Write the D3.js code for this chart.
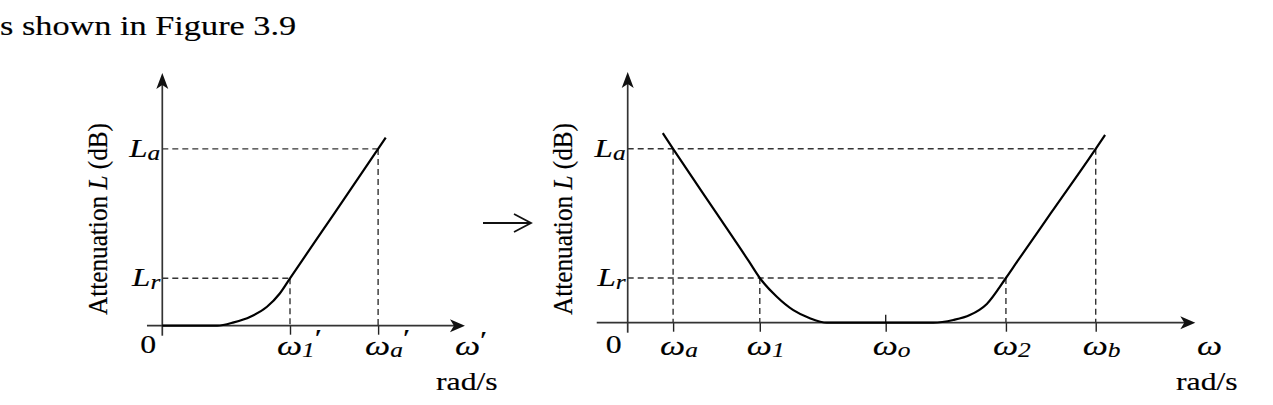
<!DOCTYPE html>
<html>
<meta charset="utf-8" />
<script src="https://d3js.org/d3.v7.min.js"></script>
<style>
  body { margin: 0; background: #fff; }
  text { font-family: "Liberation Serif", "Times New Roman", serif; fill: #000; stroke: #000; stroke-width: 0.15px; }
</style>
<body>
<svg id="fig" width="1273" height="405"></svg>
<script>
// lowpass prototype (left): normalised frequency, attenuation in units of Lr
const protoW = [0, 0.43, 0.56, 0.69, 0.82, 0.92, 1.0, 1.35, 1.69, 1.75];
const protoL = [0, 0, 0.07, 0.19, 0.40, 0.68, 1.0, 2.38, 3.73, 3.97];
const protoTickW = [1.0, 1.69];
const protoTickL = [1.0, 3.73];
const protoTickSub = ["1", "a"];

// bandstop result (right)
const bsW = [0.68, 0.88, 1.72, 2.35, 2.56, 2.89, 3.21, 3.53, 3.86, 5.92, 6.31, 6.63, 6.96, 7.33, 7.55, 8.2, 9.07, 9.25];
const bsL = [4.24, 3.89, 2.45, 1.37, 1.0, 0.58, 0.28, 0.10, 0, 0, 0.06, 0.17, 0.42, 1.0, 1.37, 2.45, 3.89, 4.2];
const bsTickW = [0.88, 2.56, 5.0, 7.33, 9.07];
const bsTickL = [3.89, 1.0, 0, 1.0, 3.89];
const bsTickSub = ["a", "1", "o", "2", "b"];

const levelSub = ["a", "r"];

const svg = d3.select("#fig");
const SX = 1.27; // source figure is stretched sideways

function label(x, y, parts, anchor) {
  const t = svg.append("text")
    .attr("transform", `translate(${x},${y}) scale(${SX},1)`)
    .attr("text-anchor", anchor || "start");
  parts.forEach(p => {
    t.append("tspan")
      .text(p.t)
      .attr("font-size", p.size || 25)
      .attr("font-style", p.it ? "italic" : null)
      .attr("dy", p.dy || 0);
  });
  return t;
}

function arrowRight(x, y) {
  svg.append("path")
    .attr("d", `M${x},${y} L${x - 15},${y - 6.5} L${x - 11},${y} L${x - 15},${y + 6.5} Z`)
    .attr("fill", "#111");
}
function arrowUp(x, y) {
  svg.append("path")
    .attr("d", `M${x},${y} L${x - 6},${y + 16} L${x},${y + 12} L${x + 6},${y + 16} Z`)
    .attr("fill", "#111");
}

// header line
label(0, 35, [{ t: "s shown in Figure 3.9", size: 27 }]);

function panel(p) {
  const x = d3.scaleLinear().domain(p.xDom).range(p.xRange);
  const y = d3.scaleLinear().domain([0, 1]).range(p.yRange);
  const g = svg.append("g");

  // ticks on the frequency axis
  g.append("g")
    .attr("transform", `translate(0,${y(0)})`)
    .call(d3.axisBottom(x).tickValues(p.tickW).tickSize(9).tickFormat("").tickSizeOuter(0))
    .call(a => a.select(".domain").remove())
    .call(a => a.selectAll(".tick line").attr("stroke", "#222").attr("stroke-width", 1.4));

  // dashed guides
  const guides = [];
  p.tickW.forEach((w, i) => { if (p.tickL[i] > 0) guides.push([w, p.tickL[i]]); });
  g.selectAll(".hguide").data(p.levels).enter().append("line")
    .attr("x1", x(0)).attr("x2", d => x(d.w))
    .attr("y1", d => y(d.L)).attr("y2", d => y(d.L))
    .attr("stroke", "#333").attr("stroke-width", 1.4).attr("stroke-dasharray", "6,4");
  g.selectAll(".vguide").data(guides).enter().append("line")
    .attr("x1", d => x(d[0])).attr("x2", d => x(d[0]))
    .attr("y1", d => y(d[1])).attr("y2", y(0))
    .attr("stroke", "#333").attr("stroke-width", 1.4).attr("stroke-dasharray", "6,4");

  // axes
  const xe = p.xExt;
  g.append("line").attr("x1", x(xe[0])).attr("x2", x(xe[1]) - 10)
    .attr("y1", y(0)).attr("y2", y(0)).attr("stroke", "#333").attr("stroke-width", 1.7);
  arrowRight(x(xe[1]), y(0));
  g.append("line").attr("x1", x(0)).attr("x2", x(0))
    .attr("y1", y(0) + 10).attr("y2", y(p.yTop) + 10).attr("stroke", "#333").attr("stroke-width", 1.7);
  arrowUp(x(0), y(p.yTop));
  if (p.midTick != null) {
    g.append("line").attr("x1", x(p.midTick)).attr("x2", x(p.midTick))
      .attr("y1", y(0) - 8).attr("y2", y(0)).attr("stroke", "#222").attr("stroke-width", 1.4);
  }

  // response curve
  const pts = p.w.map((w, i) => [w, p.L[i]]);
  g.append("path").datum(pts)
    .attr("d", d3.line().x(d => x(d[0])).y(d => y(d[1])).curve(d3.curveMonotoneX))
    .attr("fill", "none").attr("stroke", "#000").attr("stroke-width", 2.2);

  // labels
  p.levels.forEach((lv, i) => {
    label(x(0) - 2, y(lv.L) + 8, [{ t: "L", it: true, size: 26 }, { t: levelSub[i], it: true, size: 20, dy: 3 }], "end");
  });
  label(x(0) - 14, 353, [{ t: "0" }], "middle");
  p.tickW.forEach((w, i) => {
    const parts = [{ t: "ω", it: true, size: 28 }, { t: p.tickSub[i], it: true, size: 20, dy: 2 }];
    if (p.prime) parts.push({ t: "′", size: 26, dy: -10 });
    label(x(w) - 13, 355, parts);
  });
  label(p.wLabelX, 355, [{ t: "ω", it: true, size: 28 }].concat(p.prime ? [{ t: "′", size: 26, dy: -6 }] : []));
  label(p.radX, 390, [{ t: "rad/s" }]);

  svg.append("text")
    .attr("transform", `translate(${x(0) - p.titleDx},219) scale(${SX},1) rotate(-90)`)
    .attr("text-anchor", "middle")
    .attr("font-size", 21)
    .attr("textLength", 192).attr("lengthAdjust", "spacingAndGlyphs")
    .call(t => {
      t.append("tspan").text("Attenuation ");
      t.append("tspan").text("L").attr("font-style", "italic");
      t.append("tspan").text(" (dB)");
    });
}

panel({
  w: protoW, L: protoL, tickW: protoTickW, tickL: protoTickL, tickSub: protoTickSub,
  levels: [{ w: 1.69, L: 3.73 }, { w: 1.0, L: 1.0 }],
  xDom: [0, 1], xRange: [162.3, 290], yRange: [325.7, 278.3],
  xExt: [-0.12, 2.37], yTop: 5.33, prime: true, midTick: null,
  wLabelX: 455, radX: 436, titleDx: 55
});

panel({
  w: bsW, L: bsL, tickW: bsTickW, tickL: bsTickL, tickSub: bsTickSub,
  levels: [{ w: 9.07, L: 3.89 }, { w: 7.33, L: 1.0 }],
  xDom: [0, 5], xRange: [627.7, 885.7], yRange: [322.7, 278],
  xExt: [-0.6, 11.0], yTop: 5.61, prime: false, midTick: 5.0,
  wLabelX: 1197, radX: 1176, titleDx: 56
});

// mapping arrow between the two panels
svg.append("line").attr("x1", 483).attr("x2", 531).attr("y1", 223).attr("y2", 223)
  .attr("stroke", "#111").attr("stroke-width", 1.8);
svg.append("path").attr("d", "M514,214 L531,223 L514,232")
  .attr("fill", "none").attr("stroke", "#111").attr("stroke-width", 1.8);
</script>
</body>
</html>
